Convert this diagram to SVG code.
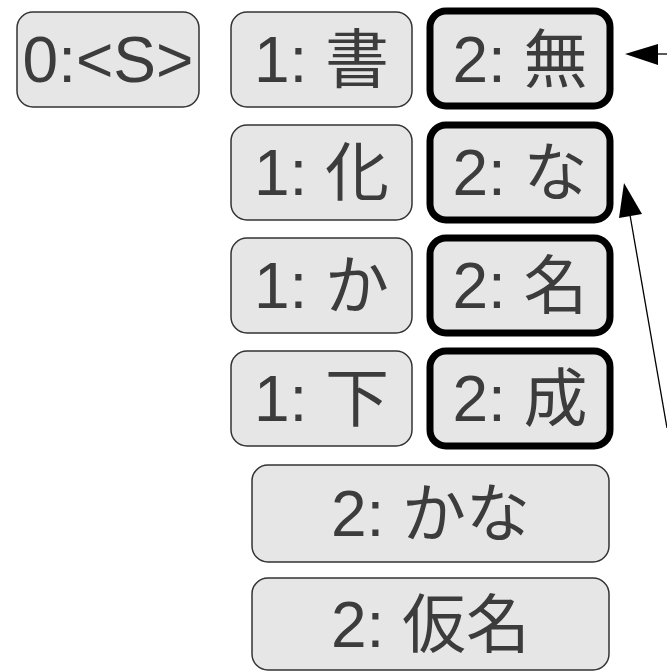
<svg xmlns="http://www.w3.org/2000/svg" width="667" height="672" viewBox="0 0 667 672">
<style>
.n rect{fill:#e6e6e6;stroke:#333;stroke-width:1.5}
.t rect{fill:#e6e6e6;stroke:#000;stroke-width:7}
text{font-family:"Liberation Sans","Noto Sans CJK JP",sans-serif;font-size:64px;fill:#3c3c3c;text-anchor:middle}
.c line{stroke:#000;stroke-width:1.3}
.c polygon{fill:#000}
</style>
<rect width="667" height="672" fill="#fff"/>
<g id="n0" class="n"><rect x="17" y="12" width="182" height="95" rx="16"/><text x="108" y="82">0:&lt;S&gt;</text></g>
<g id="n1a" class="n"><rect x="231" y="12" width="181" height="95" rx="16"/><text x="321.5" y="82">1: 書</text></g>
<g id="n1b" class="n"><rect x="231" y="125" width="181" height="95" rx="16"/><text x="321.5" y="195">1: 化</text></g>
<g id="n1c" class="n"><rect x="231" y="238" width="181" height="95" rx="16"/><text x="321.5" y="308">1: か</text></g>
<g id="n1d" class="n"><rect x="231" y="351" width="181" height="95" rx="16"/><text x="321.5" y="421">1: 下</text></g>
<g id="n2a" class="t"><rect x="430" y="11" width="180" height="95" rx="16"/><text x="520" y="82">2: 無</text></g>
<g id="n2b" class="t"><rect x="430" y="125" width="180" height="95" rx="16"/><text x="520" y="195">2: な</text></g>
<g id="n2c" class="t"><rect x="430" y="238" width="180" height="95" rx="16"/><text x="520" y="308">2: 名</text></g>
<g id="n2d" class="t"><rect x="430" y="351" width="180" height="95" rx="16"/><text x="520" y="421">2: 成</text></g>
<g id="n2e" class="n"><rect x="252" y="465" width="357" height="97" rx="16"/><text x="430.5" y="536">2: かな</text></g>
<g id="n2f" class="n"><rect x="252" y="578" width="357" height="92" rx="16"/><text x="430.5" y="647">2: 仮名</text></g>
<g id="connectors" class="c">
<line x1="667" y1="54" x2="655" y2="54"/>
<polygon points="625,54 658,44 658,65"/>
<line x1="667" y1="428" x2="630" y2="215"/>
<polygon points="624,183 619,218 642,214"/>
</g>
</svg>
